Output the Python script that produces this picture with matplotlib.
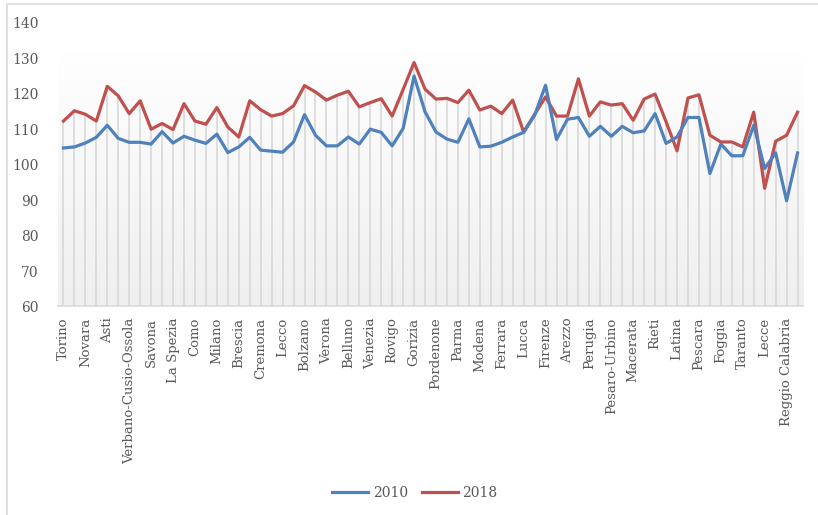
import matplotlib
matplotlib.use("Agg")
import matplotlib.pyplot as plt
from matplotlib.patches import Rectangle
import numpy as np

# provinces shown on the axis (every other category is labelled)
labels = ["Torino", "Novara", "Asti", "Verbano-Cusio-Ossola", "Savona", "La Spezia",
          "Como", "Milano", "Brescia", "Cremona", "Lecco", "Bolzano", "Verona",
          "Belluno", "Venezia", "Rovigo", "Gorizia", "Pordenone", "Parma", "Modena",
          "Ferrara", "Lucca", "Firenze", "Arezzo", "Perugia", "Pesaro-Urbino",
          "Macerata", "Rieti", "Latina", "Pescara", "Foggia", "Taranto", "Lecce",
          "Reggio Calabria"]

v2010 = [104.7, 105.0, 106.1, 107.7, 111.1, 107.4, 106.3, 106.3, 105.8, 109.3,
         106.1, 108.0, 106.9, 106.0, 108.6, 103.4, 105.0, 107.7, 104.1, 103.8,
         103.5, 106.4, 114.1, 108.3, 105.3, 105.3, 107.8, 105.8, 110.0, 109.1,
         105.3, 110.2, 125.0, 114.9, 109.2, 107.2, 106.3, 112.9, 105.0, 105.2,
         106.3, 107.8, 109.1, 113.9, 122.4, 107.1, 112.8, 113.3, 108.0, 110.8,
         108.0, 110.8, 109.0, 109.5, 114.4, 106.0, 107.8, 113.3, 113.3, 97.5,
         105.8, 102.5, 102.5, 111.1, 98.9, 103.3, 89.8, 103.3]

v2018 = [112.3, 115.2, 114.2, 112.3, 122.1, 119.4, 114.4, 118.0, 110.0, 111.6,
         109.9, 117.2, 112.3, 111.4, 116.1, 110.6, 107.8, 118.0, 115.5, 113.7,
         114.4, 116.6, 122.3, 120.5, 118.2, 119.6, 120.7, 116.3, 117.5, 118.6,
         113.7, 121.2, 128.8, 121.3, 118.5, 118.7, 117.5, 121.0, 115.4, 116.5,
         114.4, 118.2, 109.2, 114.2, 119.1, 113.7, 113.7, 124.2, 113.7, 117.7,
         116.8, 117.2, 112.5, 118.5, 119.9, 112.1, 103.9, 118.8, 119.7, 108.3,
         106.4, 106.4, 105.0, 114.8, 93.3, 106.6, 108.3, 114.8]

blue = "#4F81BD"
red = "#C0504D"
grey_txt = "#595959"
plt.rcParams["font.family"] = "DejaVu Serif"

x = np.arange(len(v2010))

fig = plt.figure(figsize=(8.18, 5.15), dpi=100)
ax = fig.add_axes([0.0709, 0.4049, 0.9108, 0.5508])

# outer frame of the chart
fig.patches.append(Rectangle((0.0086, -0.05), 1.2, 1.042, transform=fig.transFigure,
                             fill=False, edgecolor="#d9d9d9", linewidth=1.2))

# soft grey gradient behind the series
grad = np.linspace(0, 1, 256).reshape(-1, 1)
ax.imshow(grad, extent=(-0.5, len(x) - 0.5, 60, 132), cmap=plt.matplotlib.colors.LinearSegmentedColormap.from_list("g", ["#efefef", "#ffffff"]),
          aspect="auto", origin="lower", zorder=0)

# drop lines from the axis up to the higher value
ax.vlines(x, 60, np.maximum(v2010, v2018), colors="#d6d6d6", linewidth=1.1, zorder=1)

ax.plot(x, v2010, color=blue, linewidth=2.3, label="2010", zorder=3, solid_joinstyle="round")
ax.plot(x, v2018, color=red, linewidth=2.3, label="2018", zorder=2, solid_joinstyle="round")

ax.set_xlim(-0.5, len(x) - 0.5)
ax.set_ylim(60, 140)
ax.set_yticks(np.arange(60, 141, 10))
ax.set_xticks(np.arange(0, len(x), 2))
ax.set_xticklabels(labels, rotation=90, fontsize=9.5, color=grey_txt)
ax.tick_params(axis="y", length=0, pad=14, labelsize=10, labelcolor=grey_txt)
ax.tick_params(axis="x", length=0, pad=8)

for s in ["top", "right", "left"]:
    ax.spines[s].set_visible(False)
ax.spines["bottom"].set_color("#d9d9d9")
ax.spines["bottom"].set_linewidth(1.2)

leg = fig.legend(loc="center", bbox_to_anchor=(0.507, 0.043), ncol=2, frameon=False,
                 fontsize=10, handlelength=2.6, columnspacing=1.0, handletextpad=0.3)
for t in leg.get_texts():
    t.set_color(grey_txt)

fig.savefig("out.png", dpi=100)
